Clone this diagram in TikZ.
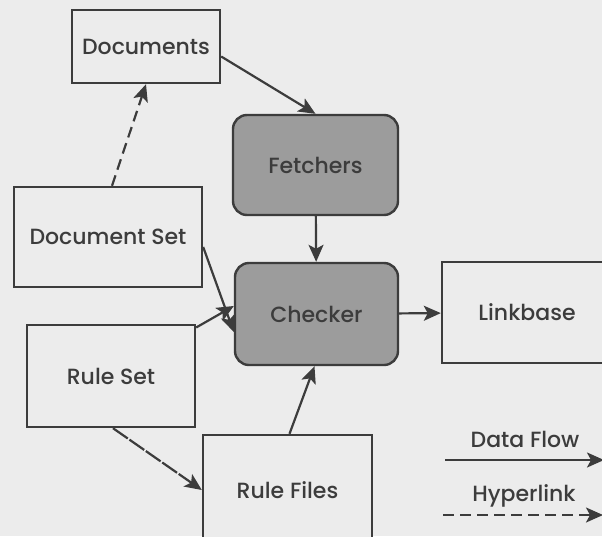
\documentclass[tikz,border=0pt]{standalone}
\usepackage{fontspec}
\setmainfont{Poppins}[UprightFont={* Medium}]
\usetikzlibrary{arrows.meta}
\definecolor{ink}{RGB}{60,60,60}
\definecolor{paper}{RGB}{236,236,236}
\definecolor{proc}{RGB}{156,156,156}
\begin{document}
\begin{tikzpicture}[x=1pt,y=-1pt,
  every node/.style={text=ink,font=\fontsize{22}{26}\selectfont},
  store/.style={draw=ink,line width=2.4pt,fill=paper,rectangle,inner sep=0pt},
  process/.style={draw=ink,line width=2.4pt,fill=proc,rounded corners=14pt,inner sep=0pt},
  flow/.style={draw=ink,line width=2.2pt,-{Stealth[length=17pt,width=15pt,inset=4pt]}},
  link/.style={flow,dash pattern=on 11pt off 6pt},
  fine/.style={flow,dash pattern=on 18pt off 2pt}]
\fill[paper] (0,0) rectangle (602,536);
\useasboundingbox (0,0) rectangle (602,536);
% data stores
\node[store,minimum width=148pt,minimum height=73pt] (docs) at (146,46.5) {Documents};
\node[store,minimum width=188pt,minimum height=100pt] (dset) at (108,237) {Document Set};
\node[store,minimum width=168pt,minimum height=102pt] (rset) at (111,376) {Rule Set};
\node[store,minimum width=169pt,minimum height=110pt] (rfiles) at (287.5,490) {Rule Files};
\node[store,minimum width=170pt,minimum height=101pt] (lbase) at (527,312.5) {Linkbase};
% processes
\node[process,minimum width=165pt,minimum height=100pt] (fetch) at (315.5,165) {Fetchers};
\node[process,minimum width=163pt,minimum height=102pt] (check) at (316.5,314) {Checker};
% connectors
\draw[flow] (docs.east) ++(0,10) coordinate (d1) (d1) -- (fetch.north);
\draw[link] (dset.north) ++(4,0) coordinate (s1) (s1) -- (docs.south);
\draw[flow] (fetch) -- (check);
\draw[flow] (dset.east) ++(0,10) coordinate (s2) (s2) -- ([yshift=-18pt]check.west);
\draw[flow] (rset) -- ([yshift=8pt]check.west);
\draw[fine] (rset.south) ++(2,0) coordinate (r1) (r1) -- (rfiles.west);
\draw[flow] (rfiles.north) ++(2,0) coordinate (r2) (r2) -- ([xshift=-2pt]check.south);
\draw[flow] (check) -- (lbase);
% legend
\node (lgflow) at (525,439) {Data Flow};
\node (lglink) at (524,496) {Hyperlink};
\coordinate (fa) at (445,460);
\coordinate (fb) at (604,460);
\coordinate (ha) at (443,515);
\coordinate (hb) at (603,515);
\draw[flow] (fa) -- (fb);
\draw[link] (ha) -- (hb);
\end{tikzpicture}
\end{document}
